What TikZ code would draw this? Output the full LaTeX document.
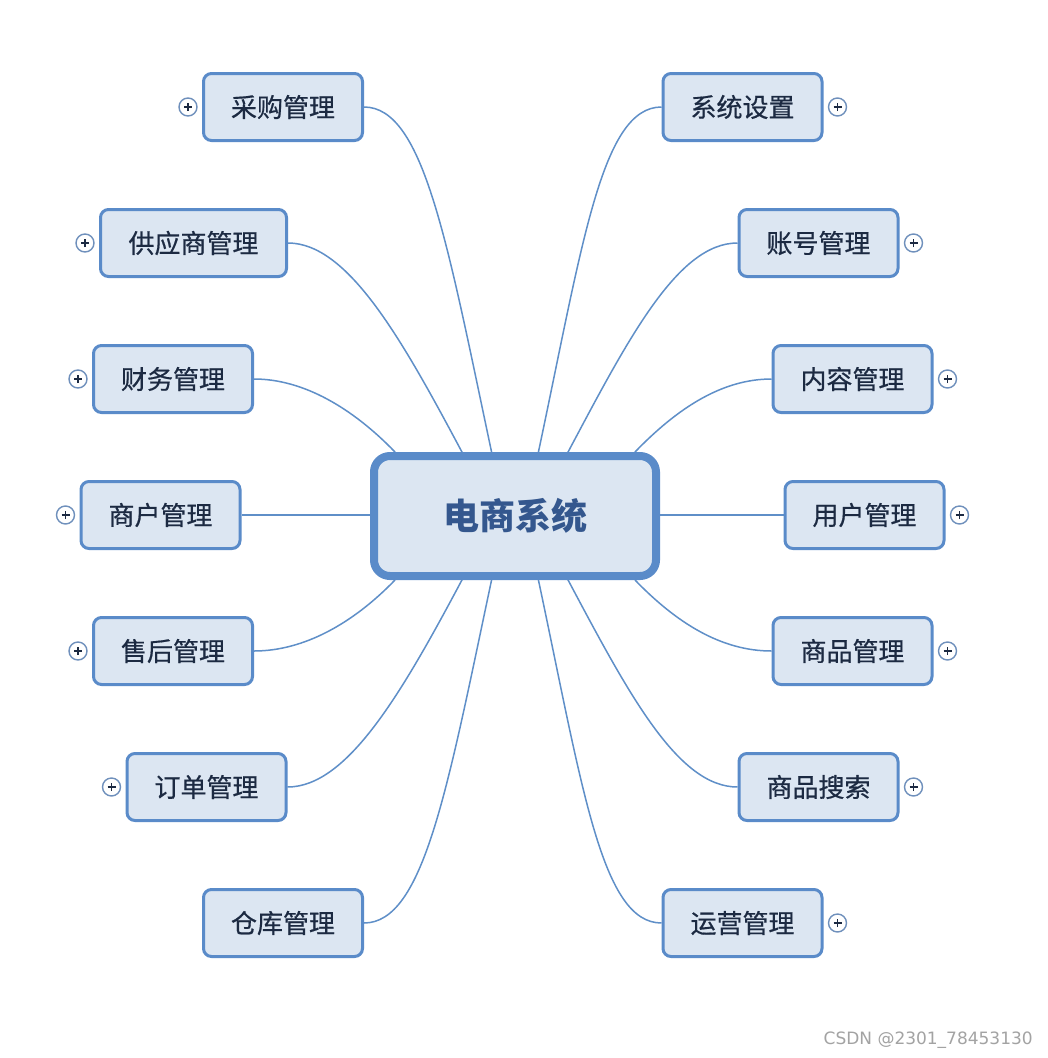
\documentclass[tikz,border=0pt]{standalone}
\usepackage{fontspec}
\newfontfamily\cjk[FakeBold=0.6]{Noto Sans CJK SC}
\newfontfamily\cjkhub{Noto Sans CJK SC}
\newfontfamily\wmfont{DejaVu Sans}
\usetikzlibrary{backgrounds}

\definecolor{boxline}{HTML}{5A8BC9}
\definecolor{boxfill}{HTML}{DCE6F2}
\definecolor{linkline}{HTML}{5F8FC8}
\definecolor{labeltext}{HTML}{1C2A42}
\definecolor{hubtext}{HTML}{34578E}
\definecolor{plusring}{HTML}{6F90BC}
\definecolor{markgray}{HTML}{A3A3A3}

\tikzset{
  topic/.style={draw=boxline, fill=boxfill, line width=3pt, rounded corners=8pt,
    minimum width=159pt, minimum height=67pt, inner sep=0pt,
    font=\cjk\fontsize{26}{30}\selectfont, text=labeltext},
  widetopic/.style={topic, minimum width=186pt},
  hub/.style={draw=boxline, fill=boxfill, line width=8pt, rounded corners=16pt,
    minimum width=282pt, minimum height=120pt, inner sep=0pt,
    font=\cjkhub\bfseries\fontsize{36}{42}\selectfont, text=hubtext},
  link/.style={draw=linkline, line width=1.5pt},
  expander/.style={circle, draw=plusring, fill=white, line width=1.4pt,
    minimum size=18pt, inner sep=0pt,
    path picture={
      \draw[labeltext, line width=1.9pt]
        ([xshift=-4pt]path picture bounding box.center) -- ++(8pt,0)
        ([yshift=-4pt]path picture bounding box.center) -- ++(0,8pt);}},
}

\begin{document}
\begin{tikzpicture}[x=1pt,y=1pt]
  \useasboundingbox (0,0) rectangle (1048,-1058);

  % central topic
  \node[hub] (hub) at (515,-516) {电商系统};

  % left branch
  \node[topic]     (cg) at (283,-107)   {采购管理};
  \node[widetopic] (gy) at (193.5,-243) {供应商管理};
  \node[topic]     (cw) at (173,-379)   {财务管理};
  \node[topic]     (sh) at (160.5,-515) {商户管理};
  \node[topic]     (hs) at (173,-651)   {售后管理};
  \node[topic]     (dd) at (206.5,-787) {订单管理};
  \node[topic]     (ck) at (283,-923)   {仓库管理};

  % right branch
  \node[topic] (xt) at (742.5,-107) {系统设置};
  \node[topic] (zh) at (818.5,-243) {账号管理};
  \node[topic] (nr) at (852.5,-379) {内容管理};
  \node[topic] (yh) at (864.5,-515) {用户管理};
  \node[topic] (sp) at (852.5,-651) {商品管理};
  \node[topic] (ss) at (818.5,-787) {商品搜索};
  \node[topic] (yy) at (742.5,-923) {运营管理};

  % collapse markers
  \node[expander] (cg-x) at ([xshift=-14pt]cg.west) {};
  \node[expander] (gy-x) at ([xshift=-14pt]gy.west) {};
  \node[expander] (cw-x) at ([xshift=-14pt]cw.west) {};
  \node[expander] (sh-x) at ([xshift=-14pt]sh.west) {};
  \node[expander] (hs-x) at ([xshift=-14pt]hs.west) {};
  \node[expander] (dd-x) at ([xshift=-14pt]dd.west) {};
  \node[expander] (xt-x) at ([xshift=14pt]xt.east) {};
  \node[expander] (zh-x) at ([xshift=14pt]zh.east) {};
  \node[expander] (nr-x) at ([xshift=14pt]nr.east) {};
  \node[expander] (yh-x) at ([xshift=14pt]yh.east) {};
  \node[expander] (sp-x) at ([xshift=14pt]sp.east) {};
  \node[expander] (ss-x) at ([xshift=14pt]ss.east) {};
  \node[expander] (yy-x) at ([xshift=14pt]yy.east) {};

  % attachment points on the central topic border
  \coordinate (hub-tl3) at (395,-452);
  \coordinate (hub-tl2) at (463,-454);
  \coordinate (hub-tl1) at (492,-454);
  \coordinate (hub-tr1) at (538,-454);
  \coordinate (hub-tr2) at (567,-454);
  \coordinate (hub-tr3) at (635,-452);
  \coordinate (hub-bl3) at (395,-580);
  \coordinate (hub-bl2) at (463,-578);
  \coordinate (hub-bl1) at (492,-578);
  \coordinate (hub-br1) at (538,-578);
  \coordinate (hub-br2) at (567,-578);
  \coordinate (hub-br3) at (635,-580);

  \node[font=\wmfont\fontsize{17}{20}\selectfont, text=markgray, anchor=east, inner sep=0pt]
    (mark) at (1033,-1040) {CSDN @2301\_78453130};

  \begin{scope}[on background layer]
    \fill[white] (0,0) rectangle (1048,-1058);
    % left connectors
    \draw[link] (cg.east) to[out=0,in=102,out distance=60pt,in distance=215pt] (hub-tl1);
    \draw[link] (gy.east) to[out=0,in=118,out distance=60pt,in distance=130pt] (hub-tl2);
    \draw[link] (cw.east) to[out=0,in=134,out distance=50pt,in distance=60pt] (hub-tl3);
    \draw[link] (sh.east) -- (hub.west |- sh.east);
    \draw[link] (hs.east) to[out=0,in=-134,out distance=50pt,in distance=60pt] (hub-bl3);
    \draw[link] (dd.east) to[out=0,in=-118,out distance=60pt,in distance=130pt] (hub-bl2);
    \draw[link] (ck.east) to[out=0,in=-102,out distance=60pt,in distance=215pt] (hub-bl1);
    % right connectors
    \draw[link] (xt.west) to[out=180,in=78,out distance=60pt,in distance=215pt] (hub-tr1);
    \draw[link] (zh.west) to[out=180,in=62,out distance=60pt,in distance=130pt] (hub-tr2);
    \draw[link] (nr.west) to[out=180,in=46,out distance=50pt,in distance=60pt] (hub-tr3);
    \draw[link] (yh.west) -- (hub.east |- yh.west);
    \draw[link] (sp.west) to[out=180,in=-46,out distance=50pt,in distance=60pt] (hub-br3);
    \draw[link] (ss.west) to[out=180,in=-62,out distance=60pt,in distance=130pt] (hub-br2);
    \draw[link] (yy.west) to[out=180,in=-78,out distance=60pt,in distance=215pt] (hub-br1);
  \end{scope}
\end{tikzpicture}
\end{document}
